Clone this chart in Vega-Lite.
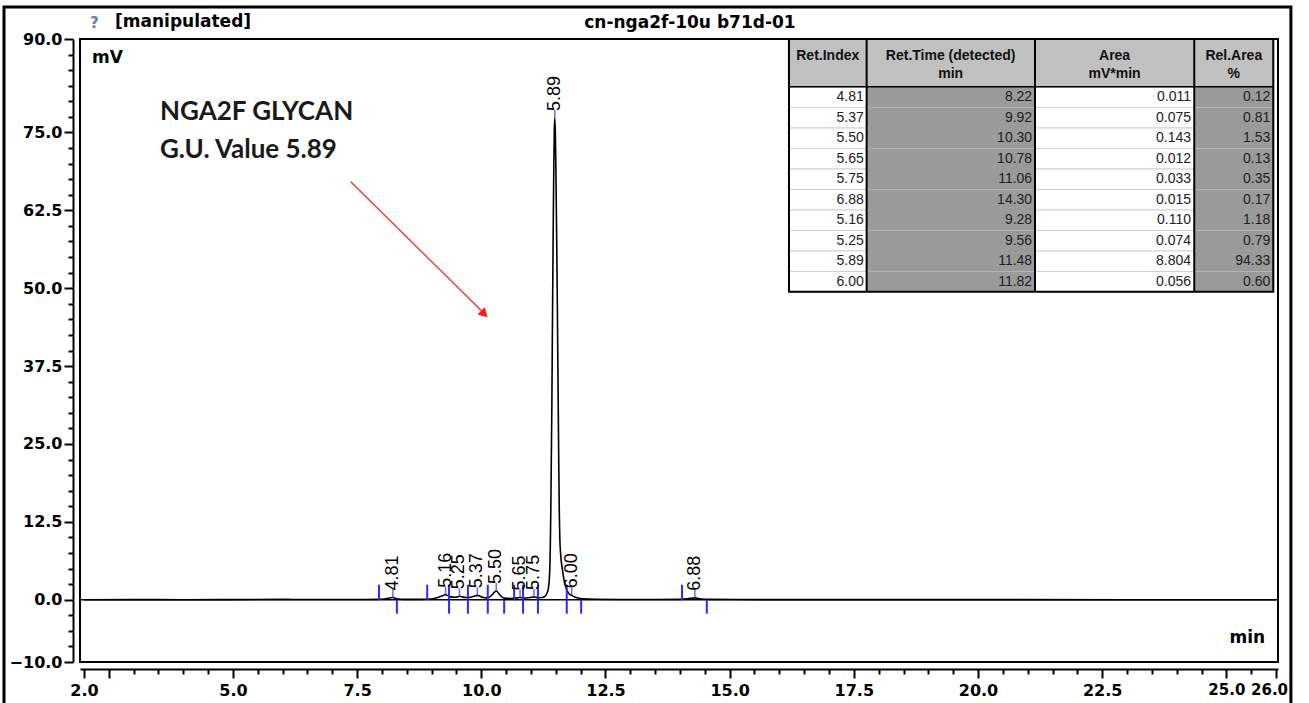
{
  "$schema": "https://vega.github.io/schema/vega-lite/v6.json",
  "width": 1198,
  "height": 623,
  "autosize": {"type": "none"},
  "padding": {"left": 80, "top": 39, "right": 31, "bottom": 41},
  "background": "white",
  "config": {"view": {"stroke": "black", "strokeWidth": 2}, "font": "DejaVu Sans"},
  "datasets": {
    "signal": [
      {"t": 2.0, "v": 0.0}, {"t": 3.0, "v": 0.02}, {"t": 4.0, "v": 0.0}, {"t": 5.0, "v": 0.02},
      {"t": 6.0, "v": 0.05}, {"t": 6.5, "v": 0.03}, {"t": 7.0, "v": 0.03}, {"t": 7.5, "v": 0.04},
      {"t": 7.9, "v": 0.05}, {"t": 8.05, "v": 0.12}, {"t": 8.15, "v": 0.28}, {"t": 8.22, "v": 0.35},
      {"t": 8.3, "v": 0.15}, {"t": 8.45, "v": 0.06}, {"t": 8.7, "v": 0.05}, {"t": 8.9, "v": 0.08},
      {"t": 9.05, "v": 0.2}, {"t": 9.18, "v": 0.5}, {"t": 9.28, "v": 0.8}, {"t": 9.38, "v": 0.45},
      {"t": 9.48, "v": 0.4}, {"t": 9.56, "v": 0.55}, {"t": 9.65, "v": 0.38}, {"t": 9.75, "v": 0.35},
      {"t": 9.85, "v": 0.55}, {"t": 9.92, "v": 0.7}, {"t": 10.02, "v": 0.4}, {"t": 10.13, "v": 0.3},
      {"t": 10.22, "v": 0.8}, {"t": 10.3, "v": 1.4}, {"t": 10.38, "v": 0.7}, {"t": 10.46, "v": 0.25},
      {"t": 10.6, "v": 0.2}, {"t": 10.72, "v": 0.3}, {"t": 10.78, "v": 0.35}, {"t": 10.86, "v": 0.25},
      {"t": 10.98, "v": 0.35}, {"t": 11.06, "v": 0.45}, {"t": 11.14, "v": 0.3}, {"t": 11.22, "v": 0.35},
      {"t": 11.28, "v": 0.55}, {"t": 11.32, "v": 1.0}, {"t": 11.35, "v": 1.8}, {"t": 11.37, "v": 3.5},
      {"t": 11.38, "v": 5.3}, {"t": 11.39, "v": 9}, {"t": 11.4, "v": 15}, {"t": 11.41, "v": 23},
      {"t": 11.42, "v": 31}, {"t": 11.43, "v": 42}, {"t": 11.44, "v": 52}, {"t": 11.45, "v": 62},
      {"t": 11.46, "v": 70}, {"t": 11.47, "v": 75.5}, {"t": 11.48, "v": 77.3}, {"t": 11.49, "v": 75},
      {"t": 11.5, "v": 70}, {"t": 11.51, "v": 63}, {"t": 11.52, "v": 56}, {"t": 11.53, "v": 48},
      {"t": 11.54, "v": 39}, {"t": 11.55, "v": 30}, {"t": 11.56, "v": 21}, {"t": 11.57, "v": 14},
      {"t": 11.58, "v": 10}, {"t": 11.6, "v": 7}, {"t": 11.63, "v": 5}, {"t": 11.67, "v": 3},
      {"t": 11.71, "v": 1.8}, {"t": 11.76, "v": 1.0}, {"t": 11.82, "v": 0.7}, {"t": 11.88, "v": 0.45},
      {"t": 11.95, "v": 0.28}, {"t": 12.05, "v": 0.15}, {"t": 12.3, "v": 0.07}, {"t": 12.8, "v": 0.04},
      {"t": 13.5, "v": 0.04}, {"t": 14.0, "v": 0.06}, {"t": 14.15, "v": 0.15}, {"t": 14.3, "v": 0.3},
      {"t": 14.42, "v": 0.12}, {"t": 14.6, "v": 0.05}, {"t": 15.5, "v": 0.02}, {"t": 17.0, "v": 0.02},
      {"t": 20.0, "v": 0.01}, {"t": 23.0, "v": 0.0}, {"t": 26.0, "v": 0.0}
    ],
    "peaks": [
      {"ri": "4.81", "rt": 8.22, "rtLabel": "8.22", "area": "0.011", "rel": "0.12", "start": 7.94, "end": 8.30, "h": 0.35},
      {"ri": "5.37", "rt": 9.92, "rtLabel": "9.92", "area": "0.075", "rel": "0.81", "start": 9.73, "end": 10.13, "h": 0.7},
      {"ri": "5.50", "rt": 10.30, "rtLabel": "10.30", "area": "0.143", "rel": "1.53", "start": 10.13, "end": 10.46, "h": 1.4},
      {"ri": "5.65", "rt": 10.78, "rtLabel": "10.78", "area": "0.012", "rel": "0.13", "start": 10.66, "end": 10.84, "h": 0.35},
      {"ri": "5.75", "rt": 11.06, "rtLabel": "11.06", "area": "0.033", "rel": "0.35", "start": 10.84, "end": 11.14, "h": 0.45},
      {"ri": "6.88", "rt": 14.30, "rtLabel": "14.30", "area": "0.015", "rel": "0.17", "start": 14.04, "end": 14.54, "h": 0.3},
      {"ri": "5.16", "rt": 9.28, "rtLabel": "9.28", "area": "0.110", "rel": "1.18", "start": 8.91, "end": 9.35, "h": 0.8},
      {"ri": "5.25", "rt": 9.56, "rtLabel": "9.56", "area": "0.074", "rel": "0.79", "start": 9.35, "end": 9.73, "h": 0.55},
      {"ri": "5.89", "rt": 11.48, "rtLabel": "11.48", "area": "8.804", "rel": "94.33", "start": 11.14, "end": 11.72, "h": 77.3},
      {"ri": "6.00", "rt": 11.82, "rtLabel": "11.82", "area": "0.056", "rel": "0.60", "start": 11.72, "end": 12.01, "h": 0.7}
    ]
  },
  "layer": [
    {
      "data": {"name": "signal"},
      "mark": {"type": "line", "color": "black", "strokeWidth": 1.6, "interpolate": "monotone"},
      "encoding": {
        "x": {
          "field": "t", "type": "quantitative",
          "scale": {"domain": [1.92, 26.04], "nice": false, "zero": false},
          "axis": {
            "title": null, "grid": false, "offset": 7,
            "values": [2, 2.5, 3, 3.5, 4, 4.5, 5, 5.5, 6, 6.5, 7, 7.5, 8, 8.5, 9, 9.5, 10, 10.5, 11, 11.5, 12, 12.5, 13, 13.5, 14, 14.5, 15, 15.5, 16, 16.5, 17, 17.5, 18, 18.5, 19, 19.5, 20, 20.5, 21, 21.5, 22, 22.5, 23, 23.5, 24, 24.5, 25, 25.5, 26],
            "labelExpr": "(datum.value === 2 || datum.value === 26 || (datum.value >= 5 && datum.value % 2.5 === 0)) ? format(datum.value, '.1f') : ''",
            "tickSize": {"condition": {"test": "datum.value === 2 || datum.value === 26 || datum.value % 2.5 === 0", "value": 9}, "value": 5},
            "labelOffset": {"condition": {"test": "datum.value === 26", "value": -7}, "value": 0},
            "labelFontSize": {"condition": {"test": "datum.value >= 25", "value": 15}, "value": 16},
            "domainColor": "black", "domainWidth": 2, "tickColor": "black", "tickWidth": 2,
            "labelFont": "DejaVu Sans", "labelFontWeight": "bold", "labelColor": "black",
            "labelPadding": 4, "labelOverlap": false, "labelFlush": false
          }
        },
        "y": {
          "field": "v", "type": "quantitative",
          "scale": {"domain": [-10, 90], "nice": false, "zero": false},
          "axis": {
            "title": null, "grid": false, "offset": 7,
            "values": [-10, -7.5, -5, -2.5, 0, 2.5, 5, 7.5, 10, 12.5, 15, 17.5, 20, 22.5, 25, 27.5, 30, 32.5, 35, 37.5, 40, 42.5, 45, 47.5, 50, 52.5, 55, 57.5, 60, 62.5, 65, 67.5, 70, 72.5, 75, 77.5, 80, 82.5, 85, 87.5, 90],
            "labelExpr": "(datum.value === 90 || datum.value === -10 || (datum.value >= 0 && datum.value <= 75 && datum.value % 12.5 === 0)) ? format(datum.value, '.1f') : ''",
            "tickSize": {"condition": {"test": "datum.value === 90 || datum.value === -10 || (datum.value >= 0 && datum.value <= 75 && datum.value % 12.5 === 0)", "value": 9}, "value": 5},
            "domainColor": "black", "domainWidth": 2, "tickColor": "black", "tickWidth": 2,
            "labelFont": "DejaVu Sans", "labelFontWeight": "bold", "labelFontSize": 16, "labelColor": "black",
            "labelPadding": 2, "labelOverlap": false, "labelFlush": false
          }
        }
      }
    },
    {
      "data": {"values": [{}]},
      "mark": {"type": "rect", "fillOpacity": 0, "stroke": "black", "strokeWidth": 3, "clip": false},
      "encoding": {
        "x": {"datum": 0.39, "type": "quantitative", "scale": {"domain": [1.92, 26.04], "nice": false, "zero": false}, "axis": null},
        "x2": {"datum": 26.3},
        "y": {"datum": 95.14, "type": "quantitative", "scale": {"domain": [-10, 90], "nice": false, "zero": false}, "axis": null},
        "y2": {"datum": -17}
      }
    },
    {
      "data": {"values": [{}]},
      "mark": {"type": "rule", "color": "black", "strokeWidth": 1.6},
      "encoding": {"y": {"datum": 0, "type": "quantitative", "scale": {"domain": [-10, 90], "nice": false, "zero": false}, "axis": null}}
    },
    {
      "data": {"name": "peaks"},
      "mark": {"type": "rule", "color": "#2b2bff", "strokeWidth": 2},
      "encoding": {
        "x": {"field": "start", "type": "quantitative", "scale": {"domain": [1.92, 26.04], "nice": false, "zero": false}, "axis": null},
        "y": {"datum": 0, "type": "quantitative", "scale": {"domain": [-10, 90], "nice": false, "zero": false}, "axis": null},
        "y2": {"datum": 2.4}
      }
    },
    {
      "data": {"name": "peaks"},
      "mark": {"type": "rule", "color": "#2b2bff", "strokeWidth": 2},
      "encoding": {
        "x": {"field": "end", "type": "quantitative", "scale": {"domain": [1.92, 26.04], "nice": false, "zero": false}, "axis": null},
        "y": {"datum": 0, "type": "quantitative", "scale": {"domain": [-10, 90], "nice": false, "zero": false}, "axis": null},
        "y2": {"datum": -2.25}
      }
    },
    {
      "data": {"name": "peaks"},
      "mark": {"type": "tick", "orient": "vertical", "color": "#2b2bff", "size": 8, "thickness": 1.5, "yOffset": -4},
      "encoding": {
        "x": {"field": "rt", "type": "quantitative", "scale": {"domain": [1.92, 26.04], "nice": false, "zero": false}, "axis": null},
        "y": {"field": "h", "type": "quantitative", "scale": {"domain": [-10, 90], "nice": false, "zero": false}, "axis": null}
      }
    },
    {
      "data": {"name": "peaks"},
      "mark": {"type": "text", "angle": 270, "align": "left", "baseline": "middle", "dx": 7, "font": "Liberation Sans", "fontSize": 18, "color": "black"},
      "encoding": {
        "x": {"field": "rt", "type": "quantitative", "scale": {"domain": [1.92, 26.04], "nice": false, "zero": false}, "axis": null},
        "y": {"field": "h", "type": "quantitative", "scale": {"domain": [-10, 90], "nice": false, "zero": false}, "axis": null},
        "text": {"field": "ri"}
      }
    },
    {
      "data": {"values": [{"label": "mV"}]},
      "mark": {"type": "text", "align": "left", "baseline": "middle", "font": "DejaVu Sans", "fontWeight": "bold", "fontSize": 17, "color": "black"},
      "encoding": {"x": {"datum": 2.16, "type": "quantitative", "scale": {"domain": [1.92, 26.04], "nice": false, "zero": false}, "axis": null}, "y": {"datum": 86.95, "type": "quantitative", "scale": {"domain": [-10, 90], "nice": false, "zero": false}, "axis": null}, "text": {"field": "label"}}
    },
    {
      "data": {"values": [{"label": "min"}]},
      "mark": {"type": "text", "align": "right", "baseline": "middle", "font": "DejaVu Sans", "fontWeight": "bold", "fontSize": 17, "color": "black"},
      "encoding": {"x": {"datum": 25.78, "type": "quantitative", "scale": {"domain": [1.92, 26.04], "nice": false, "zero": false}, "axis": null}, "y": {"datum": -6.15, "type": "quantitative", "scale": {"domain": [-10, 90], "nice": false, "zero": false}, "axis": null}, "text": {"field": "label"}}
    },
    {
      "data": {"values": [{"label": "?"}]},
      "mark": {"type": "text", "align": "center", "baseline": "middle", "font": "DejaVu Sans", "fontWeight": "bold", "fontSize": 15, "color": "#5b7fa6"},
      "encoding": {"x": {"datum": 2.21, "type": "quantitative", "scale": {"domain": [1.92, 26.04], "nice": false, "zero": false}, "axis": null}, "y": {"datum": 92.5, "type": "quantitative", "scale": {"domain": [-10, 90], "nice": false, "zero": false}, "axis": null}, "text": {"field": "label"}}
    },
    {
      "data": {"values": [{"label": "[manipulated]"}]},
      "mark": {"type": "text", "align": "left", "baseline": "middle", "font": "DejaVu Sans", "fontWeight": "bold", "fontSize": 17, "color": "black"},
      "encoding": {"x": {"datum": 2.625, "type": "quantitative", "scale": {"domain": [1.92, 26.04], "nice": false, "zero": false}, "axis": null}, "y": {"datum": 92.8, "type": "quantitative", "scale": {"domain": [-10, 90], "nice": false, "zero": false}, "axis": null}, "text": {"field": "label"}}
    },
    {
      "data": {"values": [{"label": "cn-nga2f-10u b71d-01"}]},
      "mark": {"type": "text", "align": "center", "baseline": "middle", "font": "DejaVu Sans", "fontWeight": "bold", "fontSize": 17, "color": "black"},
      "encoding": {"x": {"datum": 14.2, "type": "quantitative", "scale": {"domain": [1.92, 26.04], "nice": false, "zero": false}, "axis": null}, "y": {"datum": 92.6, "type": "quantitative", "scale": {"domain": [-10, 90], "nice": false, "zero": false}, "axis": null}, "text": {"field": "label"}}
    },
    {
      "data": {"values": [{"label": "NGA2F GLYCAN"}]},
      "mark": {"type": "text", "align": "left", "baseline": "middle", "font": "Lato", "fontWeight": "bold", "fontSize": 26, "color": "#1a1a1a"},
      "encoding": {"x": {"datum": 3.53, "type": "quantitative", "scale": {"domain": [1.92, 26.04], "nice": false, "zero": false}, "axis": null}, "y": {"datum": 78.28, "type": "quantitative", "scale": {"domain": [-10, 90], "nice": false, "zero": false}, "axis": null}, "text": {"field": "label"}}
    },
    {
      "data": {"values": [{"label": "G.U. Value 5.89"}]},
      "mark": {"type": "text", "align": "left", "baseline": "middle", "font": "Lato", "fontWeight": "bold", "fontSize": 26, "color": "#1a1a1a"},
      "encoding": {"x": {"datum": 3.53, "type": "quantitative", "scale": {"domain": [1.92, 26.04], "nice": false, "zero": false}, "axis": null}, "y": {"datum": 72.18, "type": "quantitative", "scale": {"domain": [-10, 90], "nice": false, "zero": false}, "axis": null}, "text": {"field": "label"}}
    },
    {
      "data": {"values": [{}]},
      "mark": {"type": "rule", "color": "#ff3030", "strokeWidth": 1.4},
      "encoding": {
        "x": {"datum": 7.37, "type": "quantitative", "scale": {"domain": [1.92, 26.04], "nice": false, "zero": false}, "axis": null},
        "y": {"datum": 67.1, "type": "quantitative", "scale": {"domain": [-10, 90], "nice": false, "zero": false}, "axis": null},
        "x2": {"datum": 10.1}, "y2": {"datum": 45.6}
      }
    },
    {
      "data": {"values": [{}]},
      "mark": {"type": "point", "shape": "triangle-up", "angle": 135, "size": 110, "filled": true, "color": "#ff1a1a", "opacity": 1},
      "encoding": {
        "x": {"datum": 10.06, "type": "quantitative", "scale": {"domain": [1.92, 26.04], "nice": false, "zero": false}, "axis": null},
        "y": {"datum": 45.85, "type": "quantitative", "scale": {"domain": [-10, 90], "nice": false, "zero": false}, "axis": null}
      }
    },
    {
      "data": {"values": [{}]},
      "mark": {"type": "rect", "fill": "#c0c0c0"},
      "encoding": {
        "x": {"datum": 16.194, "type": "quantitative", "scale": {"domain": [1.92, 26.04], "nice": false, "zero": false}, "axis": null}, "x2": {"datum": 25.945},
        "y": {"datum": 90, "type": "quantitative", "scale": {"domain": [-10, 90], "nice": false, "zero": false}, "axis": null}, "y2": {"datum": 82.34}
      }
    },
    {
      "data": {"values": [{}]},
      "mark": {"type": "text", "align": "center", "baseline": "top", "font": "Liberation Sans", "fontWeight": "bold", "fontSize": 14, "lineHeight": 18, "color": "#111"},
      "encoding": {"x": {"datum": 16.975, "type": "quantitative", "scale": {"domain": [1.92, 26.04], "nice": false, "zero": false}, "axis": null}, "y": {"datum": 88.39, "type": "quantitative", "scale": {"domain": [-10, 90], "nice": false, "zero": false}, "axis": null}, "text": {"value": ["Ret.Index"]}}
    },
    {
      "data": {"values": [{}]},
      "mark": {"type": "text", "align": "center", "baseline": "top", "font": "Liberation Sans", "fontWeight": "bold", "fontSize": 14, "lineHeight": 18, "color": "#111"},
      "encoding": {"x": {"datum": 19.45, "type": "quantitative", "scale": {"domain": [1.92, 26.04], "nice": false, "zero": false}, "axis": null}, "y": {"datum": 88.39, "type": "quantitative", "scale": {"domain": [-10, 90], "nice": false, "zero": false}, "axis": null}, "text": {"value": ["Ret.Time (detected)", "min"]}}
    },
    {
      "data": {"values": [{}]},
      "mark": {"type": "text", "align": "center", "baseline": "top", "font": "Liberation Sans", "fontWeight": "bold", "fontSize": 14, "lineHeight": 18, "color": "#111"},
      "encoding": {"x": {"datum": 22.75, "type": "quantitative", "scale": {"domain": [1.92, 26.04], "nice": false, "zero": false}, "axis": null}, "y": {"datum": 88.39, "type": "quantitative", "scale": {"domain": [-10, 90], "nice": false, "zero": false}, "axis": null}, "text": {"value": ["Area", "mV*min"]}}
    },
    {
      "data": {"values": [{}]},
      "mark": {"type": "text", "align": "center", "baseline": "top", "font": "Liberation Sans", "fontWeight": "bold", "fontSize": 14, "lineHeight": 18, "color": "#111"},
      "encoding": {"x": {"datum": 25.15, "type": "quantitative", "scale": {"domain": [1.92, 26.04], "nice": false, "zero": false}, "axis": null}, "y": {"datum": 88.39, "type": "quantitative", "scale": {"domain": [-10, 90], "nice": false, "zero": false}, "axis": null}, "text": {"value": ["Rel.Area", "%"]}}
    },
    {
      "data": {"name": "peaks"},
      "mark": {"type": "rect", "fill": "white", "stroke": "#d0d0d0", "strokeWidth": 1},
      "encoding": {
        "x": {"datum": 16.194, "type": "quantitative", "scale": {"domain": [1.92, 26.04], "nice": false, "zero": false}, "axis": null}, "x2": {"datum": 17.758},
        "y": {"field": "ri", "type": "nominal", "axis": null,
              "scale": {"type": "band", "domain": ["4.81", "5.37", "5.50", "5.65", "5.75", "6.88", "5.16", "5.25", "5.89", "6.00"], "range": [48, 253], "paddingInner": 0, "paddingOuter": 0}}
      }
    },
    {
      "data": {"name": "peaks"},
      "mark": {"type": "rect", "fill": "#9a9a9a"},
      "encoding": {
        "x": {"datum": 17.758, "type": "quantitative", "scale": {"domain": [1.92, 26.04], "nice": false, "zero": false}, "axis": null}, "x2": {"datum": 21.147},
        "y": {"field": "ri", "type": "nominal", "axis": null,
              "scale": {"type": "band", "domain": ["4.81", "5.37", "5.50", "5.65", "5.75", "6.88", "5.16", "5.25", "5.89", "6.00"], "range": [48, 253], "paddingInner": 0, "paddingOuter": 0}}
      }
    },
    {
      "data": {"name": "peaks"},
      "mark": {"type": "rect", "fill": "white", "stroke": "#d0d0d0", "strokeWidth": 1},
      "encoding": {
        "x": {"datum": 21.147, "type": "quantitative", "scale": {"domain": [1.92, 26.04], "nice": false, "zero": false}, "axis": null}, "x2": {"datum": 24.354},
        "y": {"field": "ri", "type": "nominal", "axis": null,
              "scale": {"type": "band", "domain": ["4.81", "5.37", "5.50", "5.65", "5.75", "6.88", "5.16", "5.25", "5.89", "6.00"], "range": [48, 253], "paddingInner": 0, "paddingOuter": 0}}
      }
    },
    {
      "data": {"name": "peaks"},
      "mark": {"type": "rect", "fill": "#9a9a9a"},
      "encoding": {
        "x": {"datum": 24.354, "type": "quantitative", "scale": {"domain": [1.92, 26.04], "nice": false, "zero": false}, "axis": null}, "x2": {"datum": 25.945},
        "y": {"field": "ri", "type": "nominal", "axis": null,
              "scale": {"type": "band", "domain": ["4.81", "5.37", "5.50", "5.65", "5.75", "6.88", "5.16", "5.25", "5.89", "6.00"], "range": [48, 253], "paddingInner": 0, "paddingOuter": 0}}
      }
    },
    {
      "data": {"name": "peaks"},
      "mark": {"type": "text", "align": "right", "baseline": "middle", "font": "Liberation Sans", "fontSize": 14, "color": "#222"},
      "encoding": {"x": {"datum": 17.7, "type": "quantitative", "scale": {"domain": [1.92, 26.04], "nice": false, "zero": false}, "axis": null},
        "y": {"field": "ri", "type": "nominal", "axis": null,
              "scale": {"type": "band", "domain": ["4.81", "5.37", "5.50", "5.65", "5.75", "6.88", "5.16", "5.25", "5.89", "6.00"], "range": [48, 253], "paddingInner": 0, "paddingOuter": 0}},
        "text": {"field": "ri"}}
    },
    {
      "data": {"name": "peaks"},
      "mark": {"type": "text", "align": "right", "baseline": "middle", "font": "Liberation Sans", "fontSize": 14, "color": "#222"},
      "encoding": {"x": {"datum": 21.09, "type": "quantitative", "scale": {"domain": [1.92, 26.04], "nice": false, "zero": false}, "axis": null},
        "y": {"field": "ri", "type": "nominal", "axis": null,
              "scale": {"type": "band", "domain": ["4.81", "5.37", "5.50", "5.65", "5.75", "6.88", "5.16", "5.25", "5.89", "6.00"], "range": [48, 253], "paddingInner": 0, "paddingOuter": 0}},
        "text": {"field": "rtLabel"}}
    },
    {
      "data": {"name": "peaks"},
      "mark": {"type": "text", "align": "right", "baseline": "middle", "font": "Liberation Sans", "fontSize": 14, "color": "#222"},
      "encoding": {"x": {"datum": 24.29, "type": "quantitative", "scale": {"domain": [1.92, 26.04], "nice": false, "zero": false}, "axis": null},
        "y": {"field": "ri", "type": "nominal", "axis": null,
              "scale": {"type": "band", "domain": ["4.81", "5.37", "5.50", "5.65", "5.75", "6.88", "5.16", "5.25", "5.89", "6.00"], "range": [48, 253], "paddingInner": 0, "paddingOuter": 0}},
        "text": {"field": "area"}}
    },
    {
      "data": {"name": "peaks"},
      "mark": {"type": "text", "align": "right", "baseline": "middle", "font": "Liberation Sans", "fontSize": 14, "color": "#222"},
      "encoding": {"x": {"datum": 25.885, "type": "quantitative", "scale": {"domain": [1.92, 26.04], "nice": false, "zero": false}, "axis": null},
        "y": {"field": "ri", "type": "nominal", "axis": null,
              "scale": {"type": "band", "domain": ["4.81", "5.37", "5.50", "5.65", "5.75", "6.88", "5.16", "5.25", "5.89", "6.00"], "range": [48, 253], "paddingInner": 0, "paddingOuter": 0}},
        "text": {"field": "rel"}}
    },
    {
      "data": {"values": [{"edge": 17.758}, {"edge": 21.147}, {"edge": 24.354}]},
      "mark": {"type": "rule", "color": "black", "strokeWidth": 2},
      "encoding": {
        "x": {"field": "edge", "type": "quantitative", "scale": {"domain": [1.92, 26.04], "nice": false, "zero": false}, "axis": null},
        "y": {"datum": 90, "type": "quantitative", "scale": {"domain": [-10, 90], "nice": false, "zero": false}, "axis": null},
        "y2": {"datum": 49.44}
      }
    },
    {
      "data": {"values": [{}]},
      "mark": {"type": "rule", "color": "black", "strokeWidth": 1.5},
      "encoding": {
        "x": {"datum": 16.194, "type": "quantitative", "scale": {"domain": [1.92, 26.04], "nice": false, "zero": false}, "axis": null}, "x2": {"datum": 25.945},
        "y": {"datum": 82.34, "type": "quantitative", "scale": {"domain": [-10, 90], "nice": false, "zero": false}, "axis": null}
      }
    },
    {
      "data": {"values": [{}]},
      "mark": {"type": "rect", "fillOpacity": 0, "stroke": "black", "strokeWidth": 2},
      "encoding": {
        "x": {"datum": 16.194, "type": "quantitative", "scale": {"domain": [1.92, 26.04], "nice": false, "zero": false}, "axis": null}, "x2": {"datum": 25.945},
        "y": {"datum": 90, "type": "quantitative", "scale": {"domain": [-10, 90], "nice": false, "zero": false}, "axis": null}, "y2": {"datum": 49.44}
      }
    }
  ],
  "resolve": {"scale": {"x": "independent", "y": "independent"}}
}
